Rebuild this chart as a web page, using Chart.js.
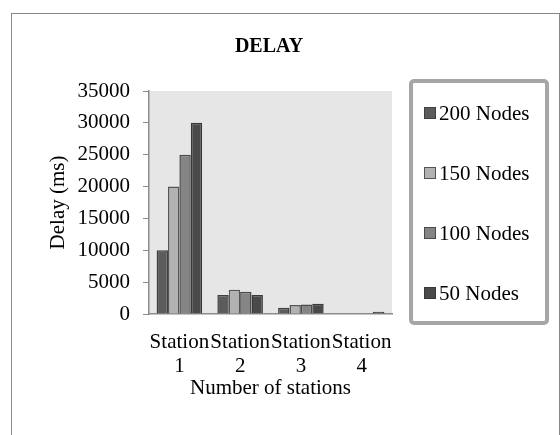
<!DOCTYPE html>
<html>
<head>
<meta charset="utf-8">
<script src="https://cdn.jsdelivr.net/npm/chart.js@4/dist/chart.umd.min.js"></script>
<style>
  html, body { margin: 0; padding: 0; background: #fff; }
  #wrap { width: 560px; height: 435px; }
</style>
</head>
<body>
<div id="wrap"><canvas id="c" width="560" height="435"></canvas></div>
<script>
// Delay per station for each network size
const stations = [["Station", "1"], ["Station", "2"], ["Station", "3"], ["Station", "4"]];
const seriesNames = ["200 Nodes", "150 Nodes", "100 Nodes", "50 Nodes"];
const nodes200 = [10000, 3000, 1000, 60];
const nodes150 = [20000, 3800, 1400, 80];
const nodes100 = [25000, 3500, 1500, 120];
const nodes50 = [30000, 3000, 1600, 350];
const yTicks = [0, 5000, 10000, 15000, 20000, 25000, 30000, 35000];
const chartTitle = "DELAY";

const FILLS = ["#5c5c5c", "#b2b2b2", "#858585", "#4a4a4a"];
const EDGES = ["#404040", "#555555", "#4a4a4a", "#383838"];
const SERIF = "'Liberation Serif', 'DejaVu Serif', serif";
const AXIS = "#8c8c8c";

// Outer frame, grey plot panel, centred title and the boxed legend on the right
const frame = {
  id: "frame",
  beforeDraw(chart) {
    const { ctx, chartArea: a } = chart;
    ctx.save();
    ctx.fillStyle = "#e6e6e6";
    ctx.fillRect(a.left, a.top, a.right - a.left, a.bottom - a.top);
    ctx.strokeStyle = "#888888";
    ctx.lineWidth = 1;
    ctx.strokeRect(11.5, 13.5, 548, 440);
    ctx.font = "bold 20px " + SERIF;
    ctx.textAlign = "center";
    ctx.textBaseline = "middle";
    ctx.fillStyle = "#000";
    ctx.fillText(chartTitle, 269, 47);
    ctx.restore();
  },
  afterDraw(chart) {
    const { ctx } = chart;
    ctx.save();
    ctx.strokeStyle = "#a6a6a6";
    ctx.lineWidth = 4;
    ctx.beginPath();
    ctx.roundRect(411, 81, 136, 242, 3);
    ctx.stroke();
    ctx.font = "21px " + SERIF;
    ctx.textBaseline = "middle";
    chart.data.datasets.forEach((ds, i) => {
      const y = 113 + i * 60;
      ctx.fillStyle = ds.backgroundColor;
      ctx.fillRect(424.5, y - 5.5, 11, 11);
      ctx.strokeStyle = ds.borderColor;
      ctx.lineWidth = 1;
      ctx.strokeRect(424.5, y - 5.5, 11, 11);
      ctx.fillStyle = "#000";
      ctx.fillText(ds.label, 439, y + 1);
    });
    ctx.restore();
  },
};

const series = [nodes200, nodes150, nodes100, nodes50];

new Chart(document.getElementById("c"), {
  type: "bar",
  data: {
    labels: stations,
    datasets: series.map((d, i) => ({
      label: seriesNames[i],
      data: d,
      backgroundColor: FILLS[i],
      borderColor: EDGES[i],
      borderWidth: 1.5,
      categoryPercentage: 0.75,
      barPercentage: 1,
    })),
  },
  options: {
    responsive: false,
    animation: false,
    layout: { padding: { left: 12, right: 168, top: 91, bottom: 34 } },
    plugins: {
      legend: { display: false },
      tooltip: { enabled: false },
      title: { display: false },
    },
    scales: {
      x: {
        grid: { display: false, drawTicks: false },
        border: { display: true, color: AXIS, width: 1.5 },
        ticks: {
          color: "#000", autoSkip: false, maxRotation: 0, minRotation: 0, padding: 16,
          font: { family: SERIF, size: 21, lineHeight: 1.15 },
        },
        title: {
          display: true, text: "Number of stations", color: "#000",
          font: { family: SERIF, size: 21, lineHeight: 1.15 },
          padding: { top: 0, bottom: 0 },
        },
        afterFit(s) { s.height = 87; },
      },
      y: {
        min: 0, max: 35000,
        afterBuildTicks(s) { s.ticks = yTicks.map((v) => ({ value: v })); },
        grid: { drawOnChartArea: false, drawTicks: true, tickLength: 6, color: AXIS },
        border: { display: true, color: AXIS, width: 1.5 },
        ticks: {
          color: "#000", padding: 13,
          callback: (v) => String(v),
          font: { family: SERIF, size: 21, lineHeight: 1.15 },
        },
        title: {
          display: true, text: "Delay (ms)", color: "#000",
          font: { family: SERIF, size: 21, lineHeight: 1.15 },
          padding: { top: 34, bottom: 0 },
        },
        afterFit(s) { s.width = 137; },
      },
    },
  },
  plugins: [frame],
});
</script>
</body>
</html>
